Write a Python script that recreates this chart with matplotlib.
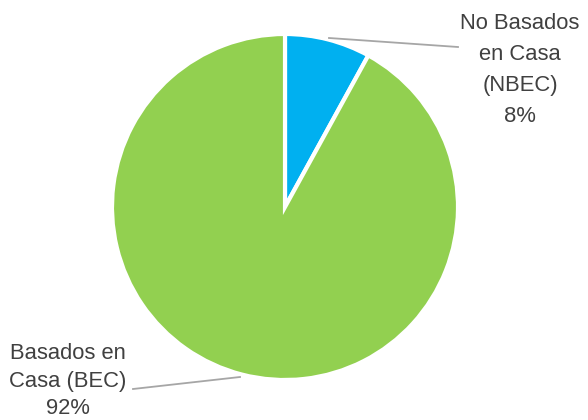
import matplotlib
matplotlib.use("Agg")
import matplotlib.pyplot as plt

# data
# -------------------------------------------------------------------------------------
labels = ["No Basados\nen Casa\n(NBEC)", "Basados en\nCasa (BEC)"]
shares = [8, 92]
colors = ["#00B0F0", "#92D050"]

plt.rcParams['font.family'] = ['Liberation Sans', 'DejaVu Sans']

fig = plt.figure(figsize=(5.88, 4.20), dpi=100)
ax = fig.add_axes([0, 0, 1, 1])

cx, cy, r = 285, 213, 173
wedges, _ = ax.pie(shares, colors=colors, startangle=90, counterclock=False,
                   center=(cx, cy), radius=r, frame=True,
                   wedgeprops=dict(edgecolor="white", linewidth=3))
ax.set_xlim(0, 588)
ax.set_ylim(0, 420)
ax.axis("off")

txt = "#404040"
line_c = "#A6A6A6"

# top-right label (NBEC)
ax.plot([329, 458], [420 - 38, 420 - 47], color=line_c, lw=1.3)
ax.text(520, 420 - 70, f"{labels[0]}\n{shares[0]}%", ha="center", va="center",
        fontsize=15.8, color=txt, linespacing=1.62)

# bottom-left label (BEC)
ax.plot([133, 240], [420 - 389, 420 - 377], color=line_c, lw=1.3)
ax.text(68, 420 - 381, f"{labels[1]}\n{shares[1]}%", ha="center", va="center",
        fontsize=15.8, color=txt, linespacing=1.4)

fig.savefig("out.png", dpi=100)
